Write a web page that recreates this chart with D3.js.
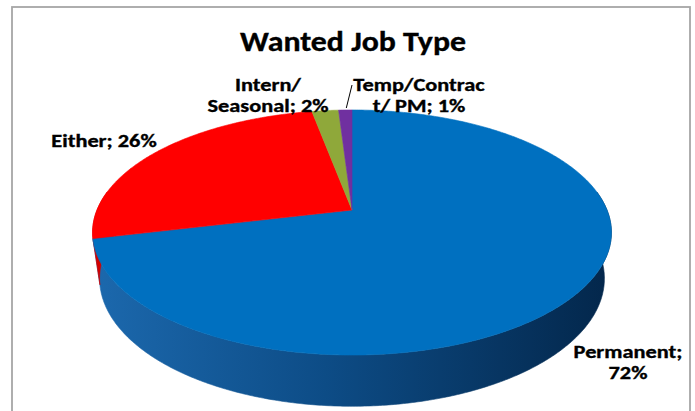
<!DOCTYPE html>
<html>
<head>
<meta charset="utf-8">
<script src="https://cdn.jsdelivr.net/npm/d3@7"></script>
<style>
  html, body { margin: 0; padding: 0; background: #fff; }
  svg { display: block; }
  text { font-family: Carlito, Calibri, Lato, "Open Sans", sans-serif; font-weight: bold; fill: #000;
         stroke: #000; stroke-width: 0.35px; }
</style>
</head>
<body>
<svg id="chart" width="695" height="411"></svg>
<script>
// ---- data ----
const categories = ["Permanent", "Either", "Intern/Seasonal", "Temp/Contract/ PM"];
const values = [72, 26, 2, 1];
const title = "Wanted Job Type";

// ---- style / layout ----
const topColors = ["#0070C0", "#FF0000", "#8FA83A", "#7030A0"];
const sideStops = [
  [["0%", "#1c69ae"], ["45%", "#0d4c86"], ["100%", "#03264a"]],
  [["0%", "#d40000"], ["100%", "#7a0000"]],
  [["0%", "#6f8529"], ["100%", "#4b5a1a"]],
  [["0%", "#55247a"], ["100%", "#331548"]]
];
// data label text is "<category>; <value>%", wrapped after `brk` characters
const labelLayout = [
  { brk: 10, x: 628, y: 358 },
  { brk: 0, x: 104, y: 147 },
  { brk: 7, x: 268, y: 91 },
  { brk: 12, x: 419, y: 91 }
];
const LINE_H = 21;
const LABEL_PX = 18, TITLE_PX = 28;

const svg = d3.select("#chart");

// perspective projection of a disc: angle a clockwise from 12 o'clock,
// z = 0 for the top face and 1 for the bottom face
const X0 = 352, Y0 = 210, A = 255, B = 118.4, K = 0.1837, DEPTH = 45, SHRINK = 0.973;
function proj(a, z) {
  const u = Math.sin(a), v = -Math.cos(a);
  const s = z ? SHRINK : 1;
  const d = 1 - K * v;
  return [X0 + s * A * u / d, Y0 + (s * B * v + DEPTH * z) / d];
}

const pie = d3.pie().sort(null).value(d => d)(values);

// frame
svg.append("rect")
  .attr("x", 12).attr("y", 7).attr("width", 678).attr("height", 430)
  .attr("fill", "#fff").attr("stroke", "#a6a6a6").attr("stroke-width", 1.8);

// gradients for the side walls
const defs = svg.append("defs");
sideStops.forEach((stops, i) => {
  const g = defs.append("linearGradient").attr("id", "side" + i)
    .attr("gradientUnits", "userSpaceOnUse")
    .attr("x1", X0 - A - 8).attr("y1", 0).attr("x2", X0 + A + 8).attr("y2", 0);
  stops.forEach(([o, c]) => g.append("stop").attr("offset", o).attr("stop-color", c));
});

const line = d3.line();
function arcPoints(a0, a1, z) {
  const n = Math.max(2, Math.ceil(Math.abs(a1 - a0) / 0.01));
  return d3.range(n + 1).map(i => proj(a0 + (a1 - a0) * i / n, z));
}

// side walls: only the near half of the rim faces the viewer
const visLo = Math.PI * 0.45, visHi = Math.PI * 1.55;
const sides = svg.append("g");
pie.forEach((p, i) => {
  const a0 = Math.max(p.startAngle, visLo), a1 = Math.min(p.endAngle, visHi);
  if (a1 <= a0) return;
  const pts = arcPoints(a0, a1, 0).concat(arcPoints(a1, a0, 1));
  sides.append("path").attr("d", line(pts) + "Z")
    .attr("fill", `url(#side${i})`).attr("stroke", `url(#side${i})`).attr("stroke-width", 0.6);
});

// top face
const topG = svg.append("g");
pie.forEach((p, i) => {
  const pts = [[X0, Y0]].concat(arcPoints(p.startAngle, p.endAngle, 0));
  topG.append("path").attr("d", line(pts) + "Z")
    .attr("fill", topColors[i]).attr("stroke", topColors[i]).attr("stroke-width", 0.6);
});

// natural width of a string at a font size
function measure(str, px) {
  const probe = svg.append("text").style("font-size", px + "px").text(str);
  const w = probe.node().getComputedTextLength();
  probe.remove();
  return w;
}
// write a line of text, widened by a common factor
function stretchedText(str, x, y, px, factor) {
  svg.append("text").attr("x", x).attr("y", y).attr("text-anchor", "middle")
    .style("font-size", px + "px")
    .attr("textLength", measure(str, px) * factor)
    .attr("lengthAdjust", "spacingAndGlyphs")
    .text(str);
}

// title
stretchedText(title, 353, 51, TITLE_PX, 226 / measure(title, TITLE_PX));

// data labels
const labelFactor = 121 / measure("Seasonal; 2%", LABEL_PX);
pie.forEach((p, i) => {
  const L = labelLayout[i];
  const full = `${categories[i]}; ${values[i]}%`;
  const lines = L.brk
    ? [full.slice(0, L.brk), full.slice(L.brk).replace(/^\s+/, "")]
    : [full];
  lines.forEach((s, j) => stretchedText(s, L.x, L.y + j * LINE_H, LABEL_PX, labelFactor));
});

// leader line for the smallest slice
const pSmall = pie[3];
const rimPt = proj((pSmall.startAngle + pSmall.endAngle) / 2, 0);
svg.append("line")
  .attr("x1", 352).attr("y1", 85).attr("x2", rimPt[0] + 1).attr("y2", rimPt[1] - 2)
  .attr("stroke", "#000").attr("stroke-width", 1);
</script>
</body>
</html>
